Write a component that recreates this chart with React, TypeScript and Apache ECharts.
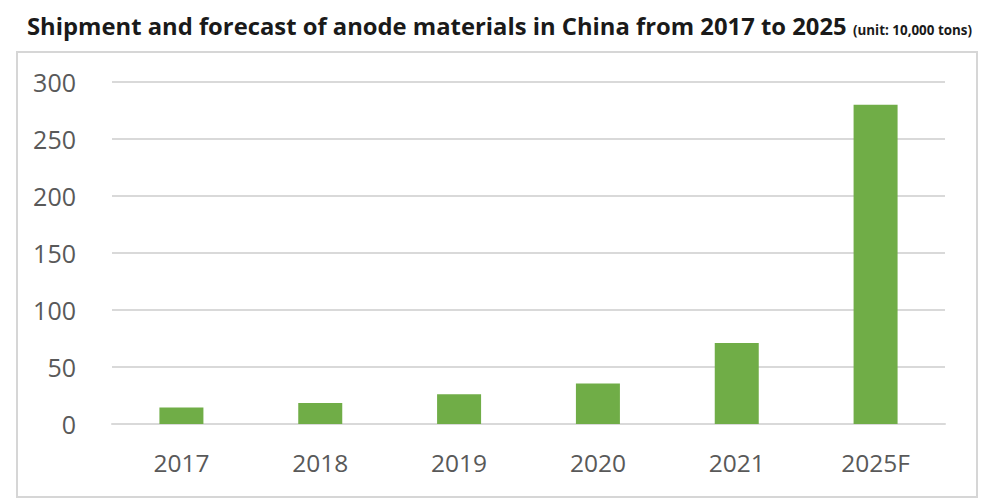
import React, { useEffect, useRef } from "react";
import * as echarts from "echarts";

const categories = ["2017", "2018", "2019", "2020", "2021", "2025F"];
const shipments = [14.5, 18.5, 26, 35.5, 71, 280];
const yTicks = { min: 0, max: 300, interval: 50 };
const titleText = "Shipment and forecast of anode materials in China from 2017 to 2025";
const unitText = "(unit: 10,000 tons)";

export default function App() {
  const ref = useRef<HTMLDivElement>(null);
  useEffect(() => {
    document.body.style.margin = "0";
    const chart = echarts.init(ref.current!, null, { renderer: "svg" });
    chart.setOption({
      animation: false,
      backgroundColor: "#ffffff",
      graphic: [
        {
          type: "rect",
          shape: { x: 17, y: 52, width: 960, height: 445 },
          style: { fill: "none", stroke: "#d6d6d6", lineWidth: 2 },
          z: 0,
        },
        {
          type: "text",
          x: 27,
          y: 26,
          style: {
            text: titleText,
            font: "bold 23.8px 'Open Sans'",
            fill: "#1a1a1a",
            textAlign: "left",
            textVerticalAlign: "middle",
          },
        },
        {
          type: "text",
          x: 972,
          y: 29.5,
          style: {
            text: unitText,
            font: "bold 13.4px 'Open Sans'",
            fill: "#1a1a1a",
            textAlign: "right",
            textVerticalAlign: "middle",
          },
        },
      ],
      grid: { left: 112, right: 55, top: 82, bottom: 80, containLabel: false },
      xAxis: {
        type: "category",
        data: categories,
        axisLine: { show: true, lineStyle: { color: "#d9d9d9", width: 2 } },
        axisTick: { show: false },
        axisLabel: {
          color: "#595959",
          fontSize: 24.5,
          fontFamily: "Open Sans",
          margin: 26,
        },
      },
      yAxis: {
        type: "value",
        min: yTicks.min,
        max: yTicks.max,
        interval: yTicks.interval,
        axisLine: { show: false },
        axisTick: { show: false },
        splitLine: { lineStyle: { color: "#d9d9d9", width: 2 } },
        axisLabel: {
          color: "#595959",
          fontSize: 25,
          fontFamily: "Open Sans",
          margin: 36,
        },
      },
      series: [
        {
          type: "bar",
          data: shipments,
          barWidth: 44,
          itemStyle: { color: "#70AD47" },
        },
      ],
    });
    return () => chart.dispose();
  }, []);
  return <div ref={ref} style={{ width: 1000, height: 504 }} />;
}
